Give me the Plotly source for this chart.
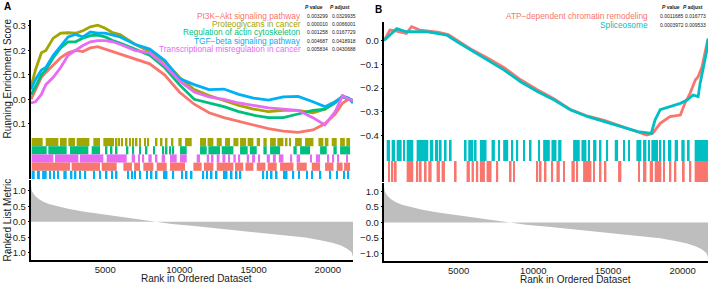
import plotly.graph_objects as go

W, H = 709, 308
FONT = "Liberation Sans, Arial, sans-serif"

# ---------------- data ----------------
N_GENES = 21700

ranks_a = [1, 300, 700, 1000, 1500, 2000, 2500, 3000, 3500, 4000, 4500, 5000, 5500, 6000, 7000, 8000,
           9000, 10000, 11000, 12000, 13000, 14000, 15000, 16000, 17000, 18000, 19000, 19800, 20500,
           21000, 21400, 21700]
es_pi3k = [0.0, 0.04, 0.09, 0.11, 0.14, 0.17, 0.19, 0.2, 0.195, 0.21, 0.215, 0.205, 0.195, 0.185, 0.165,
           0.145, 0.1, 0.03, -0.02, -0.055, -0.075, -0.09, -0.105, -0.12, -0.13, -0.135, -0.125, -0.1,
           -0.06, -0.015, 0.0, -0.003]
es_proteo = [0.05, 0.12, 0.19, 0.2, 0.25, 0.27, 0.272, 0.27, 0.28, 0.296, 0.303, 0.29, 0.272, 0.265,
             0.225, 0.195, 0.155, 0.09, 0.04, 0.015, -0.005, -0.025, -0.04, -0.05, -0.045, -0.045,
             -0.055, -0.04, -0.01, 0.01, 0.0, -0.005]
es_reg = [0.02, 0.05, 0.1, 0.12, 0.17, 0.21, 0.235, 0.235, 0.25, 0.26, 0.262, 0.255, 0.24, 0.23, 0.205,
          0.18, 0.13, 0.06, 0.0, -0.015, -0.03, -0.05, -0.065, -0.075, -0.075, -0.06, -0.045, -0.04,
          -0.015, 0.015, 0.005, -0.005]
es_tgf = [0.04, 0.08, 0.12, 0.13, 0.18, 0.22, 0.255, 0.265, 0.255, 0.275, 0.27, 0.27, 0.262, 0.255,
          0.225, 0.205, 0.16, 0.085, 0.06, 0.04, 0.042, 0.02, 0.005, -0.003, 0.01, 0.012, -0.01, -0.03,
          -0.01, 0.01, 0.005, -0.015]
es_trans = [-0.015, -0.01, 0.02, 0.06, 0.09, 0.13, 0.18, 0.2, 0.22, 0.235, 0.24, 0.24, 0.235, 0.225,
            0.2, 0.19, 0.14, 0.075, 0.03, 0.01, 0.0, -0.015, -0.025, -0.035, -0.04, -0.045, -0.075,
            -0.105, -0.05, 0.015, 0.0, -0.005]

ranks_splice = [1, 400, 850, 1500, 2200, 2900, 3550, 4200, 4900, 5800, 6900, 8050, 9150, 10300, 11400,
                12500, 13650, 14750, 15900, 17000, 17900, 18150, 18500, 19150, 19850, 20300, 20700,
                21040, 21170, 21400, 21620, 21700]
es_splice = [0.0, 0.023, 0.05, 0.037, 0.037, 0.037, 0.03, 0.023, -0.005, -0.04, -0.082, -0.124, -0.173,
             -0.215, -0.25, -0.292, -0.32, -0.341, -0.362, -0.383, -0.39, -0.334, -0.29, -0.278, -0.264,
             -0.25, -0.229, -0.236, -0.18, -0.11, -0.04, 0.009]
ranks_atp = [1, 400, 850, 1500, 1850, 2400, 3000, 3600, 4300, 4900, 5800, 6900, 8050, 9150, 10300,
             11400, 12500, 13650, 14750, 15900, 17000, 17600, 18000, 18500, 19150, 19850, 20150, 20500,
             20850, 21040, 21300, 21500, 21680]
es_atp = [0.0, 0.044, 0.04, 0.03, 0.058, 0.044, 0.04, 0.035, 0.025, 0.0, -0.035, -0.072, -0.114, -0.165,
          -0.208, -0.245, -0.29, -0.318, -0.335, -0.36, -0.385, -0.397, -0.39, -0.348, -0.32, -0.313,
          -0.264, -0.222, -0.166, -0.152, -0.11, -0.054, 0.002]

ranks_metric = [1, 50, 150, 300, 500, 800, 1200, 1800, 2500, 3500, 4500, 5500, 6500, 7500, 8300, 9500,
                11000, 12500, 14000, 15500, 17000, 18500, 19500, 20300, 20900, 21300, 21600, 21700]
metric = [1.15, 1.0, 0.92, 0.82, 0.74, 0.65, 0.57, 0.49, 0.42, 0.33, 0.26, 0.2, 0.14, 0.07, 0.0, -0.07,
          -0.14, -0.21, -0.28, -0.35, -0.42, -0.51, -0.6, -0.68, -0.77, -0.87, -0.98, -1.13]

# gene hit runs (start rank, end rank)
hits_proteo = [[45, 786], [989, 1843], [1955, 2404], [2517, 2966], [3078, 3932], [4202, 4651],
               [4876, 5595], [5775, 5775], [5955, 5955], [6117, 6117], [6449, 6449], [6674, 6674],
               [6898, 6898], [7123, 7123], [7348, 7348], [7685, 7685], [7909, 7909], [8471, 8471],
               [8808, 8808], [9145, 9145], [9482, 9595], [9932, 10156], [10381, 10830], [11392, 11800],
               [11900, 12291], [12516, 12853], [13078, 13415], [13640, 13977], [14089, 14500],
               [14600, 14988], [15212, 15437], [15662, 15886], [16111, 16500], [16600, 17010],
               [17234, 17234], [17459, 17459], [17796, 18246], [18470, 19032], [19369, 19700],
               [19800, 20043], [20268, 20605], [20830, 21150], [21250, 21504]]
hits_reg = [[45, 1056], [1168, 2404], [2629, 3865], [4090, 4651], [5100, 5100], [5438, 5438],
            [5775, 5775], [6449, 6561], [6898, 6898], [7348, 7348], [7797, 7797], [8246, 8359],
            [8921, 8921], [9145, 9145], [9370, 9370], [9595, 9595], [10044, 10493], [11392, 11842],
            [11954, 12740], [12853, 13640], [14089, 14600], [14750, 15212], [15662, 15886],
            [16111, 16785], [17684, 17908], [18133, 18807], [19482, 19931], [20380, 20605],
            [20830, 21504]]
hits_pi3k = [[45, 2629], [2741, 4651], [4763, 5775], [6224, 6800], [6950, 7348], [7572, 8246],
             [8471, 9145], [9370, 10381], [10943, 11500], [11650, 12291], [12516, 13640],
             [13752, 14300], [14450, 14988], [15212, 15800], [15950, 16560], [16785, 17684],
             [17908, 18583], [18920, 19482], [19818, 20380], [20605, 21000], [21100, 21504]]
hits_tgf = [[45, 250], [400, 600], [750, 1056], [1281, 1281], [1505, 1618], [1843, 1843], [2180, 2404],
            [2741, 2741], [2966, 3050], [3303, 3303], [3640, 3700], [4202, 4314], [4651, 4651],
            [5100, 5100], [5438, 5500], [5775, 5775], [6561, 6561], [6786, 6850], [7011, 7011],
            [7348, 7348], [7797, 7850], [8134, 8134], [8471, 8471], [8921, 8980], [9145, 9145],
            [9595, 9595], [10156, 10220], [10493, 10493], [10830, 10830], [11617, 11617],
            [11842, 11900], [12179, 12179], [12516, 12516], [12965, 13030], [13190, 13190],
            [13527, 13527], [13864, 13864], [14089, 14150], [15662, 15662], [15886, 15950],
            [16223, 16223], [16560, 16560], [17010, 17070], [17234, 17234], [17684, 17684],
            [18021, 18080], [18583, 18583], [18920, 18920], [19482, 19540], [20156, 20156],
            [20605, 20605], [21055, 21120], [21392, 21392]]
hits_trans = [[45, 1505], [1618, 3191], [3303, 4876], [5100, 6449], [6786, 7011], [7235, 7348],
              [7572, 7572], [7909, 8134], [8471, 8471], [8808, 9033], [9370, 9819], [10044, 10493],
              [11167, 11392], [11842, 12000], [12200, 12291], [12516, 12700], [12900, 13100],
              [13300, 13415], [13640, 13800], [14000, 14089], [14538, 14700], [14900, 15100],
              [15300, 15437], [15886, 16100], [16300, 16500], [16700, 17010], [17459, 17600],
              [17900, 18133], [18807, 18900], [19200, 19482], [20043, 20043], [20380, 20380],
              [20717, 20717], [21279, 21279]]
hits_splice = [[178, 401], [513, 736], [847, 1182], [1293, 1405], [1516, 1962], [2185, 2966],
               [3077, 3300], [3412, 3635], [3746, 3858], [4081, 4192], [4415, 4527], [5419, 5530],
               [5642, 5976], [6088, 6199], [6422, 6868], [7203, 7426], [7649, 7760], [7983, 8318],
               [8541, 8652], [8875, 8987], [9321, 9433], [9767, 9879], [10325, 10436], [10659, 11105],
               [11217, 11551], [11663, 11886], [12666, 13112], [13224, 13558], [13670, 13781],
               [14004, 14227], [14450, 14562], [14896, 15008], [15454, 15677], [16011, 16123],
               [16346, 16457], [16903, 17238], [17349, 17572], [17684, 17795], [17907, 18353],
               [18464, 18576], [18687, 18799], [19022, 19245], [19468, 19691], [19914, 20137],
               [20360, 20471], [20806, 21698]]
hits_atp = [[290, 401], [513, 624], [736, 847], [1516, 1962], [2185, 2297], [2408, 2520], [2743, 2854],
            [2966, 3189], [3523, 3746], [3858, 4081], [4750, 4861], [5530, 5753], [5865, 6021],
            [6155, 6311], [6422, 6757], [6868, 7203], [7537, 7649], [8429, 8541], [8652, 8764],
            [10213, 10325], [10436, 10548], [10771, 10882], [11217, 11328], [11551, 11774],
            [11997, 12109], [12555, 12778], [12889, 13001], [13335, 13893], [14004, 14116],
            [14450, 14562], [14785, 14896], [15677, 15900], [17015, 17126], [17349, 17572],
            [17795, 18018], [18130, 18576], [18687, 18799], [19133, 19245], [19468, 19580],
            [20025, 20137], [20471, 20583], [20806, 21698]]

names_a = ["PI3K\u2212Akt signaling pathway", "Proteoglycans in cancer",
           "Regulation of actin cytoskeleton", "TGF\u2212beta signaling pathway",
           "Transcriptional misregulation in cancer"]
pval_a = ["0.003299", "0.000010", "0.001258", "0.004687", "0.005834"]
padj_a = ["0.0329935", "0.0066001", "0.0167729", "0.0418918", "0.0430688"]
names_b = ["ATP\u2212dependent chromatin remodeling", "Spliceosome"]
pval_b = ["0.0011685", "0.0003972"]
padj_b = ["0.016773", "0.009533"]

# ---------------- styling ----------------
COL_A = ["#F8766D", "#A3A500", "#00BF7D", "#00B0F6", "#E76BF3"]
COL_B = ["#F8766D", "#00BFC4"]


def fx(px):
    return px / W


def fy(py):
    return 1 - py / H


fig = go.Figure()

es_a = [es_pi3k, es_proteo, es_reg, es_tgf, es_trans]
for vals, c in zip(es_a, COL_A):
    fig.add_trace(go.Scatter(x=ranks_a, y=vals, mode="lines", line=dict(color=c, width=2.8),
                             xaxis="x", yaxis="y", hoverinfo="skip"))

rows_a = [(hits_proteo, COL_A[1], 4), (hits_reg, COL_A[2], 3), (hits_trans, COL_A[4], 2),
          (hits_pi3k, COL_A[0], 1), (hits_tgf, COL_A[3], 0)]


def add_hits(hits, color, base, xa, ya):
    xs = [(s + e) / 2 for s, e in hits]
    ws = [max(e - s, 100) for s, e in hits]
    fig.add_trace(go.Bar(x=xs, y=[1] * len(hits), width=ws, base=base,
                         marker=dict(color=color, line=dict(width=0)),
                         xaxis=xa, yaxis=ya, hoverinfo="skip"))


for hits, c, b in rows_a:
    add_hits(hits, c, b, "x2", "y2")

fig.add_trace(go.Scatter(x=ranks_metric, y=metric, mode="lines", line=dict(width=0, color="#BEBEBE"),
                         fill="tozeroy", fillcolor="#BEBEBE", xaxis="x3", yaxis="y3", hoverinfo="skip"))

fig.add_trace(go.Scatter(x=ranks_atp, y=es_atp, mode="lines", line=dict(color=COL_B[0], width=2.8),
                         xaxis="x4", yaxis="y4", hoverinfo="skip"))
fig.add_trace(go.Scatter(x=ranks_splice, y=es_splice, mode="lines", line=dict(color=COL_B[1], width=2.8),
                         xaxis="x4", yaxis="y4", hoverinfo="skip"))
add_hits(hits_splice, COL_B[1], 1, "x5", "y5")
add_hits(hits_atp, COL_B[0], 0, "x5", "y5")
fig.add_trace(go.Scatter(x=ranks_metric, y=metric, mode="lines", line=dict(width=0, color="#BEBEBE"),
                         fill="tozeroy", fillcolor="#BEBEBE", xaxis="x6", yaxis="y6", hoverinfo="skip"))

tickfont = dict(family=FONT, size=9.5, color="#1a1a1a")
xtickfont = dict(family=FONT, size=9.5, color="#1a1a1a")
dom_a = [fx(31), fx(353)]
dom_b = [fx(384), fx(708)]
xr = [0, N_GENES]

hidden_x = dict(range=xr, showline=False, showticklabels=False, ticks="", showgrid=False, zeroline=False)
shown_x = dict(range=xr, showline=True, linecolor="black", linewidth=1.5, ticks="",
               tickvals=[5000, 10000, 15000, 20000], tickformat="d", tickfont=xtickfont,
               showgrid=False, zeroline=False)
ybase = dict(showline=True, linecolor="black", linewidth=1.5, ticks="outside", ticklen=1.5, tickcolor="black",
             tickfont=tickfont, showgrid=False, zeroline=False, tickformat=".1f")
ytick_rows = dict(showline=True, linecolor="black", linewidth=1.5, showticklabels=False, ticks="",
                  showgrid=False, zeroline=False)

fig.update_layout(
    width=W, height=H, margin=dict(l=0, r=0, t=0, b=0), showlegend=False, barmode="overlay",
    paper_bgcolor="white", plot_bgcolor="white", font=dict(family=FONT, color="#1a1a1a"),
    xaxis=dict(domain=dom_a, anchor="y", **hidden_x),
    yaxis=dict(domain=[fy(138), fy(20)], anchor="x", range=[-0.158, 0.324],
               tickvals=[-0.1, 0, 0.1, 0.2, 0.3], **ybase),
    xaxis2=dict(domain=dom_a, anchor="y2", **hidden_x),
    yaxis2=dict(domain=[fy(179), fy(138)], anchor="x2", range=[0, 5], **ytick_rows),
    xaxis3=dict(domain=dom_a, anchor="y3", **shown_x),
    yaxis3=dict(domain=[fy(260), fy(180)], anchor="x3", range=[-1.235, 1.345],
                tickvals=[-1, -0.5, 0, 0.5, 1], **ybase),
    xaxis4=dict(domain=dom_b, anchor="y4", **hidden_x),
    yaxis4=dict(domain=[fy(140), fy(22)], anchor="x4", range=[-0.418, 0.078],
                tickvals=[-0.4, -0.3, -0.2, -0.1, 0], **ybase),
    xaxis5=dict(domain=dom_b, anchor="y5", **hidden_x),
    yaxis5=dict(domain=[fy(182), fy(140)], anchor="x5", range=[0, 2], **ytick_rows),
    xaxis6=dict(domain=dom_b, anchor="y6", **shown_x),
    yaxis6=dict(domain=[fy(261), fy(183)], anchor="x6", range=[-1.24, 1.27],
                tickvals=[-1, -0.5, 0, 0.5, 1], **ybase),
)

ann = []


def text(x, y, s, size, color="#1a1a1a", xanchor="center", angle=0):
    ann.append(dict(x=fx(x), y=fy(y), xref="paper", yref="paper", text=s, showarrow=False,
                    xanchor=xanchor, yanchor="middle", textangle=angle,
                    font=dict(family=FONT, size=size, color=color)))


text(2, 7, "<b>A</b>", 10, "black", "left")
text(373, 9, "<b>B</b>", 10, "black", "left")
text(6.5, 79, "Running Enrichment Score", 10, angle=-90)
text(6.5, 220, "Ranked List Metric", 10, angle=-90)
text(196, 278, "Rank in Ordered Dataset", 10)
text(575, 279, "Rank in Ordered Dataset", 10)

rows_y_a = [16, 24.3, 32.3, 40.7, 49]
text(314, 7, "<b><i>P</i> value</b>", 5)
text(340, 7, "<b><i>P</i> adjust</b>", 5)
for nm, pv, pa, c, yy in zip(names_a, pval_a, padj_a, COL_A, rows_y_a):
    text(302.5, yy, nm, 8.3, c, "right")
    text(305, yy, pv, 5, "#1a1a1a", "left")
    text(330, yy, pa, 5, "#1a1a1a", "left")

rows_y_b = [15.5, 25]
text(671, 7, "<b><i>P</i> value</b>", 5)
text(693, 7, "<b><i>P</i> adjust</b>", 5)
for nm, pv, pa, c, yy in zip(names_b, pval_b, padj_b, COL_B, rows_y_b):
    text(650, yy, nm, 8.3, c, "right")
    text(658, yy, pv, 5, "#1a1a1a", "left")
    text(683, yy, pa, 5, "#1a1a1a", "left")

fig.update_layout(annotations=ann)
fig.write_html("out.html", config={"displayModeBar": False},
               post_script="document.body.style.margin='0';document.body.style.padding='0';")
